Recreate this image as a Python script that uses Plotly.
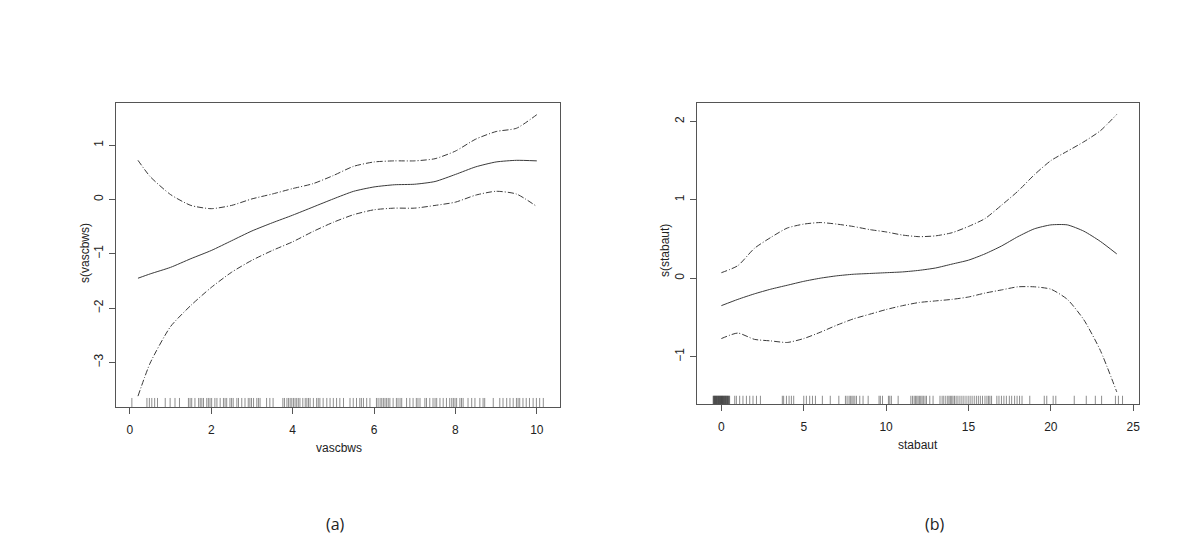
import plotly.graph_objects as go

# ---- panel (a): s(vascbws) ----
vasc_x = [0.2, 0.5, 1.0, 1.5, 2.0, 2.5, 3.0, 3.5, 4.0, 4.5, 5.0,
          5.5, 6.0, 6.5, 7.0, 7.5, 8.0, 8.5, 9.0, 9.5, 10.0]
vasc_fit = [-1.45, -1.37, -1.25, -1.09, -0.94, -0.76, -0.58, -0.43, -0.29, -0.14, 0.01,
            0.15, 0.23, 0.27, 0.28, 0.33, 0.46, 0.60, 0.69, 0.72, 0.71]
vasc_upper = [0.72, 0.42, 0.09, -0.11, -0.17, -0.11, 0.01, 0.10, 0.20, 0.29, 0.44,
              0.61, 0.69, 0.71, 0.71, 0.75, 0.89, 1.11, 1.25, 1.31, 1.56]
vasc_lower = [-3.62, -3.01, -2.34, -1.95, -1.62, -1.34, -1.12, -0.94, -0.78, -0.59, -0.42,
              -0.28, -0.19, -0.16, -0.16, -0.11, -0.05, 0.08, 0.15, 0.10, -0.13]
vasc_rug = [0.05, 0.42, 0.48, 0.54, 0.61, 0.68, 0.87, 0.99, 1.11, 1.22, 1.44, 1.48, 1.52, 1.60,
            1.69, 1.73, 1.77, 1.81, 1.89, 1.93, 1.97, 2.01, 2.09, 2.14, 2.22, 2.30, 2.34, 2.38,
            2.46, 2.50, 2.54, 2.63, 2.67, 2.75, 2.83, 2.91, 2.95, 2.99, 3.04, 3.12, 3.16, 3.20,
            3.36, 3.44, 3.52, 3.76, 3.80, 3.86, 3.90, 3.94, 3.98, 4.02, 4.06, 4.10, 4.14, 4.18,
            4.25, 4.31, 4.35, 4.39, 4.43, 4.51, 4.59, 4.63, 4.67, 4.75, 4.84, 4.92, 5.00, 5.08,
            5.16, 5.25, 5.41, 5.49, 5.57, 5.65, 5.69, 5.74, 5.82, 5.90, 6.06, 6.10, 6.15, 6.19,
            6.23, 6.27, 6.31, 6.35, 6.39, 6.47, 6.55, 6.59, 6.64, 6.68, 6.80, 6.88, 6.96, 7.04,
            7.08, 7.13, 7.25, 7.29, 7.37, 7.45, 7.50, 7.54, 7.62, 7.70, 7.78, 7.86, 7.91, 7.95,
            7.99, 8.03, 8.11, 8.15, 8.19, 8.31, 8.40, 8.48, 8.60, 8.68, 8.72, 8.93, 9.09, 9.17,
            9.26, 9.34, 9.42, 9.50, 9.54, 9.58, 9.66, 9.74, 9.82, 9.91, 9.99, 10.07, 10.16]

# ---- panel (b): s(stabaut) ----
stab_x = [0, 1, 2, 3, 4, 5, 6, 7, 8, 9, 10, 11, 12, 13, 14, 15, 16, 17, 18, 19, 20, 21, 22, 23, 24]
stab_fit = [-0.35, -0.27, -0.20, -0.14, -0.09, -0.04, 0.00, 0.03, 0.05, 0.06, 0.07, 0.08, 0.10,
            0.13, 0.18, 0.23, 0.31, 0.41, 0.53, 0.63, 0.68, 0.68, 0.60, 0.47, 0.31]
stab_upper = [0.07, 0.16, 0.38, 0.52, 0.64, 0.69, 0.71, 0.69, 0.66, 0.62, 0.59, 0.55, 0.53,
              0.54, 0.58, 0.66, 0.76, 0.93, 1.11, 1.32, 1.50, 1.62, 1.74, 1.88, 2.09]
stab_lower = [-0.77, -0.70, -0.78, -0.80, -0.82, -0.77, -0.69, -0.60, -0.52, -0.46, -0.40, -0.35,
              -0.31, -0.29, -0.27, -0.24, -0.19, -0.15, -0.11, -0.11, -0.14, -0.27, -0.53, -0.92, -1.45]
stab_rug = [-0.5, -0.47, -0.45, -0.42, -0.4, -0.37, -0.35, -0.32, -0.3, -0.27, -0.25, -0.22, -0.2,
            -0.17, -0.15, -0.12, -0.1, -0.07, -0.05, -0.02, 0.0, 0.02, 0.05, 0.07, 0.1, 0.12, 0.15,
            0.17, 0.2, 0.22, 0.25, 0.28, 0.3, 0.33, 0.36, 0.38, 0.41, 0.44, 0.47, 0.5,
            0.81, 0.91, 1.11, 1.31, 1.52, 1.72, 1.92, 2.13, 2.37, 3.70, 3.78, 3.95, 4.11, 4.25, 4.39,
            5.00, 5.16, 5.36, 5.53, 5.71, 6.13, 6.61, 7.13, 7.53, 7.63, 7.75, 7.83, 7.92, 8.00, 8.10,
            8.20, 8.40, 8.60, 8.91, 9.57, 9.65, 9.78, 10.14, 10.22, 10.32, 10.73, 11.50, 11.60, 11.70,
            11.78, 11.86, 11.94, 12.02, 12.10, 12.18, 12.26, 12.36, 12.45, 12.65, 12.85, 13.27, 13.40,
            13.50, 13.62, 13.74, 13.82, 13.90, 13.98, 14.06, 14.15, 14.25, 14.36, 14.48, 14.60, 14.72,
            14.85, 14.98, 15.10, 15.22, 15.35, 15.48, 15.60, 15.72, 15.85, 16.00, 16.12, 16.22, 16.30,
            16.40, 16.72, 16.85, 17.00, 17.15, 17.30, 17.48, 17.62, 17.80, 17.95, 18.10, 18.25,
            18.72, 19.60, 19.75, 20.14, 20.30, 21.42, 22.15, 22.70, 23.08, 23.92, 24.10, 24.35]

vasc_xrange = [-0.34, 10.57]
vasc_yrange = [-3.82, 1.775]
stab_xrange = [-1.48, 25.35]
stab_yrange = [-1.605, 2.235]

FONT = "Liberation Sans, Arial, sans-serif"
band_dash = "6px,2px,1px,2px"
W, H = 1200, 558
OFF = 8  # page body margin


def px_x(px):
    return (px - OFF) / W


def px_y(py):
    return 1 - (py - OFF) / H


def rug_xy(vals, y0, y1):
    xs, ys = [], []
    for v in vals:
        xs += [v, v, None]
        ys += [y0, y1, None]
    return xs, ys


fig = go.Figure()


def add_panel(x, fit, upper, lower, rug, yrange, rug_len, xa, ya):
    for y, dash in [(upper, band_dash), (lower, band_dash), (fit, "solid")]:
        fig.add_trace(go.Scatter(x=x, y=y, mode="lines", xaxis=xa, yaxis=ya,
                                 line=dict(color="#3a3a3a", width=1, dash=dash, shape="spline",
                                           smoothing=0.6),
                                 showlegend=False, hoverinfo="skip"))
    rx, ry = rug_xy(rug, yrange[0], yrange[0] + rug_len)
    fig.add_trace(go.Scatter(x=rx, y=ry, mode="lines", xaxis=xa, yaxis=ya,
                             line=dict(color="rgba(30,30,30,0.5)", width=1),
                             showlegend=False, hoverinfo="skip"))


add_panel(vasc_x, vasc_fit, vasc_upper, vasc_lower, vasc_rug, vasc_yrange, 0.166, "x", "y")
add_panel(stab_x, stab_fit, stab_upper, stab_lower, stab_rug, stab_yrange, 0.105, "x2", "y2")

axis_common = dict(showline=True, linecolor="#555555", linewidth=1, mirror=True,
                   showgrid=False, zeroline=False, ticks="outside", ticklen=6,
                   tickcolor="#555555", tickfont=dict(family=FONT, size=12, color="#222222"))

fig.update_layout(
    width=W, height=H,
    margin=dict(l=0, r=0, t=0, b=0),
    paper_bgcolor="white", plot_bgcolor="white",
    xaxis=dict(domain=[px_x(116), px_x(560)], range=vasc_xrange, tickvals=[0, 2, 4, 6, 8, 10],
               anchor="y", ticklabelstandoff=6, **axis_common),
    yaxis=dict(domain=[px_y(407), px_y(103)], range=vasc_yrange, tickvals=[-3, -2, -1, 0, 1],
               anchor="x", tickangle=-90, ticklabelstandoff=1, **axis_common),
    xaxis2=dict(domain=[px_x(697), px_x(1139)], range=stab_xrange, tickvals=[0, 5, 10, 15, 20, 25],
                anchor="y2", ticklabelstandoff=6, **axis_common),
    yaxis2=dict(domain=[px_y(404), px_y(103)], range=stab_yrange, tickvals=[-1, 0, 1, 2],
                anchor="x2", tickangle=-90, ticklabelstandoff=1, **axis_common),
)

labels = [
    ("vascbws", 339, 448, 0, 12, FONT),
    ("s(vascbws)", 85, 253, -90, 12, FONT),
    ("stabaut", 918, 445, 0, 12, FONT),
    ("s(stabaut)", 665, 251, -90, 12, FONT),
    ("(a)", 335, 524, 0, 16, "Open Sans, sans-serif"),
    ("(b)", 935, 524, 0, 16, "Open Sans, sans-serif"),
]
for text, px, py, ang, size, fam in labels:
    fig.add_annotation(text=text, x=px_x(px), y=px_y(py), xref="paper", yref="paper",
                       showarrow=False, textangle=ang, xanchor="center", yanchor="middle",
                       font=dict(family=fam, size=size, color="#222222"))

fig.write_html("out.html")
